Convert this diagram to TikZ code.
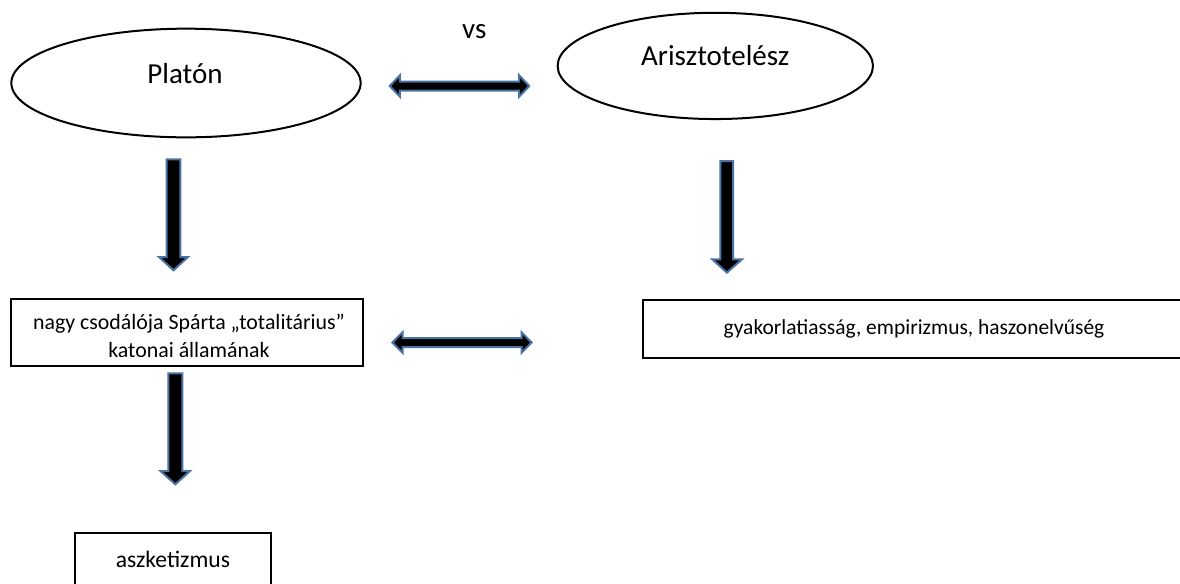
\documentclass[tikz,border=0pt]{standalone}
\usepackage{fontspec}
\setmainfont{Carlito}
\usepackage{tikz}
\usetikzlibrary{shapes.geometric}

\definecolor{arrowblue}{RGB}{74,114,164}

\tikzset{
    oval/.style={ellipse, draw, line width=1.5pt, inner sep=0pt},
    box/.style={rectangle, draw, line width=1.6pt, inner sep=0pt},
    blockarrow/.style={fill=black, draw=arrowblue, line width=1.5pt, line join=miter},
    bigtext/.style={font=\fontsize{21.75pt}{26pt}\selectfont, inner sep=0pt},
    boxtext/.style={font=\fontsize{16.1pt}{21pt}\selectfont, inner sep=0pt},
    smalltext/.style={font=\fontsize{17.7pt}{21pt}\selectfont, inner sep=0pt},
}

\begin{document}
\begin{tikzpicture}[x=0.75pt,y=0.75pt,yscale=-1,xscale=1]
    \useasboundingbox (0,0) rectangle (1180,583);

    %Shape: Ellipse [Platón]
    \node[oval, minimum width=262pt, minimum height=81.5pt] (platon) at (186,83) {};
    % Text Node
    \node[bigtext, anchor=base] (platontxt) at ([xshift=-0.75pt]platon.center) {Platón};
    %Shape: Ellipse [Arisztotelész]
    \node[oval, minimum width=236.5pt, minimum height=79.7pt] (arisz) at (715.3,65.9) {};
    % Text Node
    \node[bigtext, anchor=base] (arisztxt) at (arisz.center) {Arisztotelész};
    % Text Node
    \node[bigtext, anchor=base] (vs) at (474.3,38.3) {vs};

    %Shape: Rectangle [Spárta]
    \node[box, minimum width=264pt, minimum height=49.8pt] (sparta) at (187,332.5) {};
    \begin{scope}
        \clip (12,301) rectangle (362,356);
        % Text Node
        \node[boxtext, font=\fontsize{16.4pt}{21pt}\selectfont, align=center, anchor=base]
            (spartatxt) at (189,357.3)
            {nagy csodálója Spárta „totalitárius”\\katonai államának};
    \end{scope}
    %Shape: Rectangle [empirizmus]
    \node[box, boxtext, minimum width=406.5pt, minimum height=43.3pt] (empir) at (914,329.2)
        {gyakorlatiasság, empirizmus, haszonelvűség};
    %Shape: Rectangle [aszketizmus]
    \node[box, smalltext, minimum width=146.8pt, minimum height=38.8pt] (aszk) at (172.9,559.2)
        {aszketizmus};

    %Shape: Left Right Arrow
    \draw[blockarrow] (389.7,86) -- (399.8,75.4) -- (399.8,81.5) -- (519.2,81.5) -- (519.2,75.4)
        -- (529.3,86) -- (519.2,96.6) -- (519.2,90.5) -- (399.8,90.5) -- (399.8,96.6) -- cycle;
    %Shape: Left Right Arrow
    \draw[blockarrow] (392.4,342.5) -- (402.5,332.2) -- (402.5,338) -- (521.5,338) -- (521.5,332.2)
        -- (531.6,342.5) -- (521.5,352.8) -- (521.5,347) -- (402.5,347) -- (402.5,352.8) -- cycle;
    %Shape: Down Arrow
    \draw[blockarrow] (166.7,159.3) -- (180.3,159.3) -- (180.3,257) -- (188,257) -- (173.5,270.3)
        -- (159,257) -- (166.7,257) -- cycle;
    %Shape: Down Arrow
    \draw[blockarrow] (720.3,161) -- (733.1,161) -- (733.1,259.3) -- (742,259.3) -- (726.9,272.6)
        -- (712.2,259.3) -- (720.3,259.3) -- cycle;
    %Shape: Down Arrow
    \draw[blockarrow] (168.3,373.3) -- (182.3,373.3) -- (182.3,471) -- (190,471) -- (175.3,484.3)
        -- (160.5,471) -- (168.3,471) -- cycle;

\end{tikzpicture}
\end{document}
